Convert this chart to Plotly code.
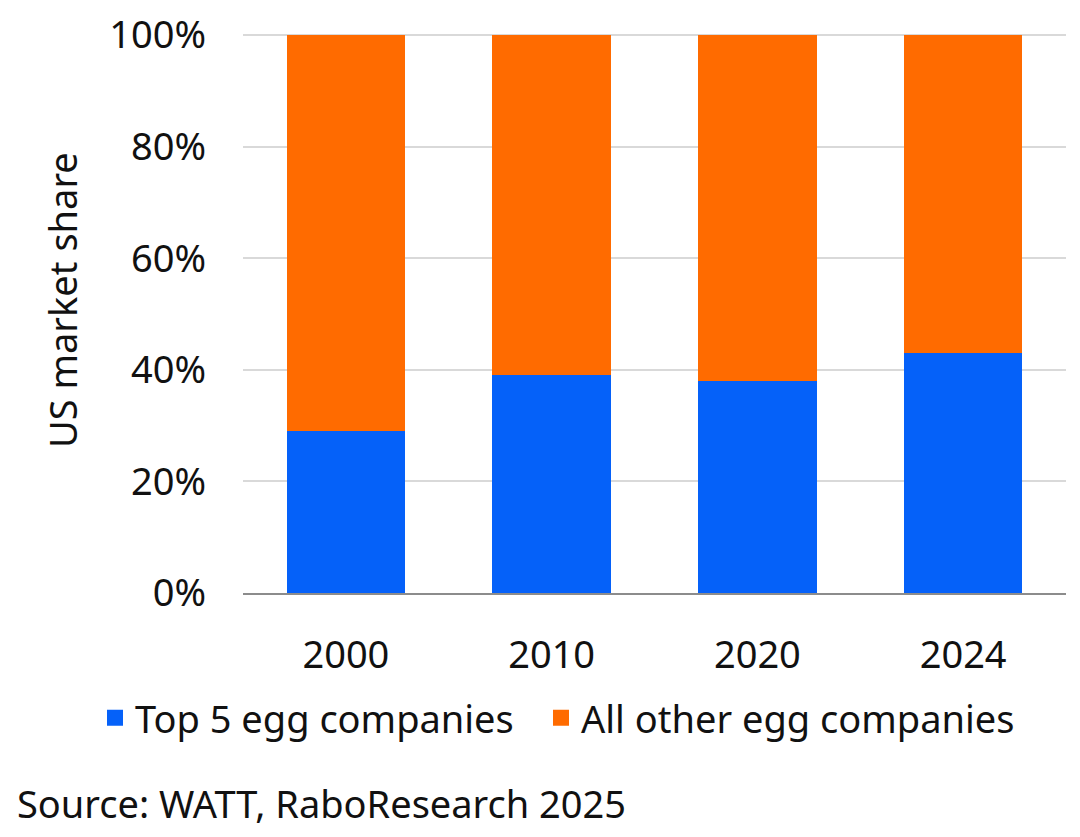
import plotly.graph_objects as go

years = ["2000", "2010", "2020", "2024"]
top5 = [29, 39, 38, 43]
others = [71, 61, 62, 57]
series_names = ["Top 5 egg companies", "All other egg companies"]
series_colors = ["#0561F9", "#FF6B00"]
y_ticks = [0, 20, 40, 60, 80, 100]
y_tick_labels = ["0%", "20%", "40%", "60%", "80%", "100%"]

FONT = "Noto Sans"
TXT = "#111111"
OFF = 8  # page body margin
W, H = 1080 - OFF, 837 - OFF
L, R, T, B = 243 - OFF, 14, 34 - OFF, 837 - 593
pw = W - L - R
ph = H - T - B

fig = go.Figure()
for vals, name, col in zip([top5, others], series_names, series_colors):
    fig.add_trace(go.Bar(x=years, y=vals, name=name, marker_color=col,
                         marker_line_width=0, showlegend=False))
for name, col, lg in zip(series_names, series_colors, ["legend", "legend2"]):
    fig.add_trace(go.Scatter(x=[None], y=[None], mode="markers", name=name,
                             legend=lg,
                             marker=dict(symbol="square", size=24, color=col)))


def leg(xpix):
    return dict(orientation="h", xref="container", yref="container",
                x=(xpix - OFF - 42) / W, xanchor="left",
                y=1 - (718 - OFF) / H, yanchor="middle",
                font=dict(size=38, color=TXT), itemsizing="trace",
                itemclick=False, bgcolor="rgba(0,0,0,0)")


fig.update_layout(
    width=W, height=H,
    barmode="stack", bargap=0.425,
    margin=dict(l=L, r=R, t=T, b=B),
    plot_bgcolor="white", paper_bgcolor="white",
    font=dict(family=FONT, size=38, color=TXT),
    showlegend=True,
    legend=leg(137),
    legend2=leg(583),
)
fig.update_xaxes(showgrid=False, showline=True, linecolor="#8c8c8c", linewidth=2,
                 ticks="", ticklabelstandoff=27, automargin=False,
                 tickfont=dict(size=38, color=TXT))
fig.update_yaxes(range=[0, 100.2], tickvals=y_ticks, ticktext=y_tick_labels,
                 showgrid=True, gridcolor="#d9d9d9", gridwidth=2, zeroline=False,
                 showline=False, ticks="", ticklabelstandoff=36, automargin=False,
                 ticklabeloverflow="allow", tickfont=dict(size=38, color=TXT))

fig.add_annotation(text="US market share", xref="paper", yref="paper",
                   x=(62 - 243) / pw, y=(593 - 300) / ph, textangle=-90,
                   showarrow=False, xanchor="center", yanchor="middle",
                   font=dict(size=38, color=TXT))
fig.add_annotation(text="Source: WATT, RaboResearch 2025", xref="paper", yref="paper",
                   x=(18 - OFF - 3 - L) / pw, y=(593 - 803) / ph, showarrow=False,
                   xanchor="left", yanchor="middle", font=dict(size=38, color=TXT))

fig.write_html("out.html")
